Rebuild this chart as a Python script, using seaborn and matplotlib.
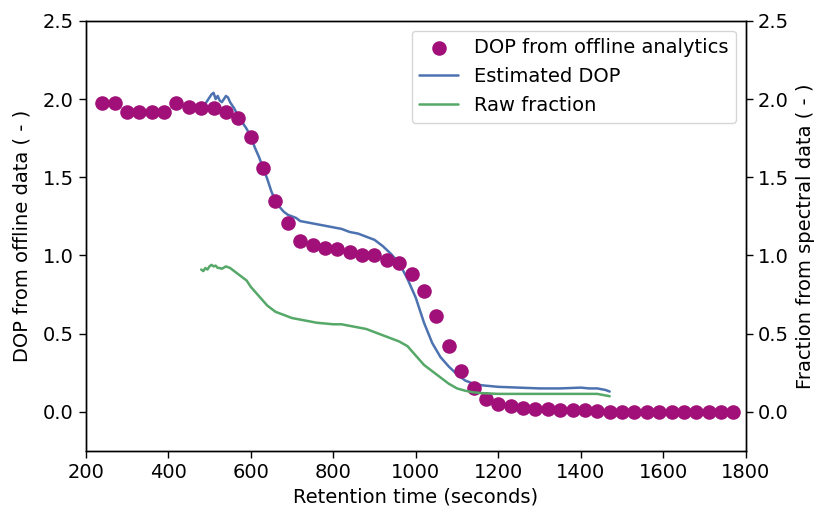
import numpy as np
import pandas as pd
import matplotlib
matplotlib.use("Agg")
import matplotlib.pyplot as plt
import seaborn as sns

# Offline analytics samples (every 30 s)
offline_time = [240, 270, 300, 330, 360, 390, 420, 450, 480, 510, 540, 570,
                600, 630, 660, 690, 720, 750, 780, 810, 840, 870, 900, 930,
                960, 990, 1020, 1050, 1080, 1110, 1140, 1170, 1200, 1230,
                1260, 1290, 1320, 1350, 1380, 1410, 1440, 1470, 1500, 1530,
                1560, 1590, 1620, 1650, 1680, 1710, 1740, 1770]
offline_dop = [1.975, 1.975, 1.92, 1.92, 1.92, 1.92, 1.975, 1.95, 1.94, 1.94,
               1.92, 1.88, 1.76, 1.56, 1.35, 1.21, 1.09, 1.07, 1.05, 1.04,
               1.02, 1.00, 1.00, 0.97, 0.95, 0.88, 0.77, 0.61, 0.42, 0.26,
               0.15, 0.08, 0.05, 0.035, 0.025, 0.02, 0.02, 0.015, 0.01, 0.01,
               0.005, 0.0, 0.0, 0.0, 0.0, 0.0, 0.0, 0.0, 0.0, 0.0, 0.0, 0.0]

# Estimated DOP from spectral model
est_time = [483, 490, 500, 505, 510, 515, 520, 525, 530, 535, 540, 545, 550,
            560, 570, 580, 590, 600, 610, 620, 630, 640, 650, 660, 670, 680,
            690, 700, 710, 720, 740, 760, 780, 800, 820, 840, 860, 880, 900,
            920, 940, 960, 980, 1000, 1020, 1040, 1060, 1080, 1100, 1120,
            1140, 1160, 1200, 1250, 1300, 1350, 1400, 1420, 1440, 1460, 1470]
est_dop = [1.94, 1.97, 2.01, 2.03, 2.04, 2.00, 2.02, 1.99, 1.98, 2.00, 2.02,
           2.01, 1.98, 1.94, 1.89, 1.85, 1.81, 1.76, 1.69, 1.63, 1.56, 1.49,
           1.41, 1.35, 1.31, 1.28, 1.26, 1.25, 1.24, 1.22, 1.21, 1.20, 1.19,
           1.18, 1.17, 1.15, 1.14, 1.12, 1.10, 1.06, 1.01, 0.95, 0.85, 0.73,
           0.57, 0.44, 0.35, 0.29, 0.24, 0.20, 0.18, 0.17, 0.16, 0.155, 0.15,
           0.15, 0.155, 0.15, 0.15, 0.14, 0.13]

# Raw fraction from spectral data
raw_time = [480, 485, 490, 495, 500, 505, 510, 515, 520, 525, 530, 540, 550,
            560, 570, 580, 590, 600, 620, 640, 660, 680, 700, 720, 740, 760,
            780, 800, 820, 840, 860, 880, 900, 920, 940, 960, 980, 1000, 1020,
            1040, 1060, 1080, 1100, 1120, 1140, 1160, 1200, 1300, 1400, 1440,
            1470]
raw_frac = [0.91, 0.90, 0.92, 0.91, 0.93, 0.94, 0.93, 0.935, 0.92, 0.92,
            0.915, 0.93, 0.92, 0.90, 0.88, 0.86, 0.84, 0.80, 0.74, 0.68, 0.64,
            0.62, 0.60, 0.59, 0.58, 0.57, 0.565, 0.56, 0.56, 0.55, 0.54, 0.53,
            0.51, 0.49, 0.47, 0.45, 0.42, 0.36, 0.30, 0.26, 0.22, 0.18, 0.15,
            0.135, 0.125, 0.12, 0.115, 0.115, 0.115, 0.115, 0.10]

offline = pd.DataFrame({"time": offline_time, "dop": offline_dop})
estimated = pd.DataFrame({"time": est_time, "dop": est_dop})
raw = pd.DataFrame({"time": raw_time, "frac": raw_frac})

sns.set_style("ticks")
plt.rcParams["font.family"] = ["DejaVu Sans"]
plt.rcParams["font.size"] = 14
plt.rcParams["text.color"] = "black"
plt.rcParams["axes.labelcolor"] = "black"
plt.rcParams["xtick.color"] = "black"
plt.rcParams["ytick.color"] = "black"

purple = "#A01078"
blue = "#4C72B0"
green = "#55A868"

fig = plt.figure(figsize=(8.16, 5.09), dpi=100)
ax = fig.add_axes([0.105, 0.114, 0.809, 0.845])
ax2 = ax.twinx()

sns.scatterplot(data=offline, x="time", y="dop", ax=ax, color=purple,
                s=110, linewidth=0, zorder=3,
                label="DOP from offline analytics")
sns.lineplot(data=estimated, x="time", y="dop", ax=ax, color=blue,
             linewidth=1.8, label="Estimated DOP")
sns.lineplot(data=raw, x="time", y="frac", ax=ax2, color=green,
             linewidth=1.8, label="Raw fraction")

ax.set_xlim(200, 1800)
ax.set_ylim(-0.25, 2.5)
ax2.set_ylim(-0.25, 2.5)
ax.set_xticks(np.arange(200, 1801, 200))
ax.set_yticks([0.0, 0.5, 1.0, 1.5, 2.0, 2.5])
ax2.set_yticks([0.0, 0.5, 1.0, 1.5, 2.0, 2.5])

ax.set_xlabel("Retention time (seconds)", fontsize=14)
ax.set_ylabel("DOP from offline data ( - )", fontsize=14, labelpad=8)
ax2.set_ylabel("Fraction from spectral data ( - )", fontsize=14, labelpad=5)

for a in (ax, ax2):
    a.tick_params(labelsize=14, colors="black", width=1, length=5)
    for sp in a.spines.values():
        sp.set_color("black")
        sp.set_linewidth(1)

h1, l1 = ax.get_legend_handles_labels()
h2, l2 = ax2.get_legend_handles_labels()
if ax2.get_legend() is not None:
    ax2.get_legend().remove()
ax.legend(h1 + h2, l1 + l2, loc="upper right", fontsize=14, frameon=True)

fig.savefig("out.png", dpi=100)
